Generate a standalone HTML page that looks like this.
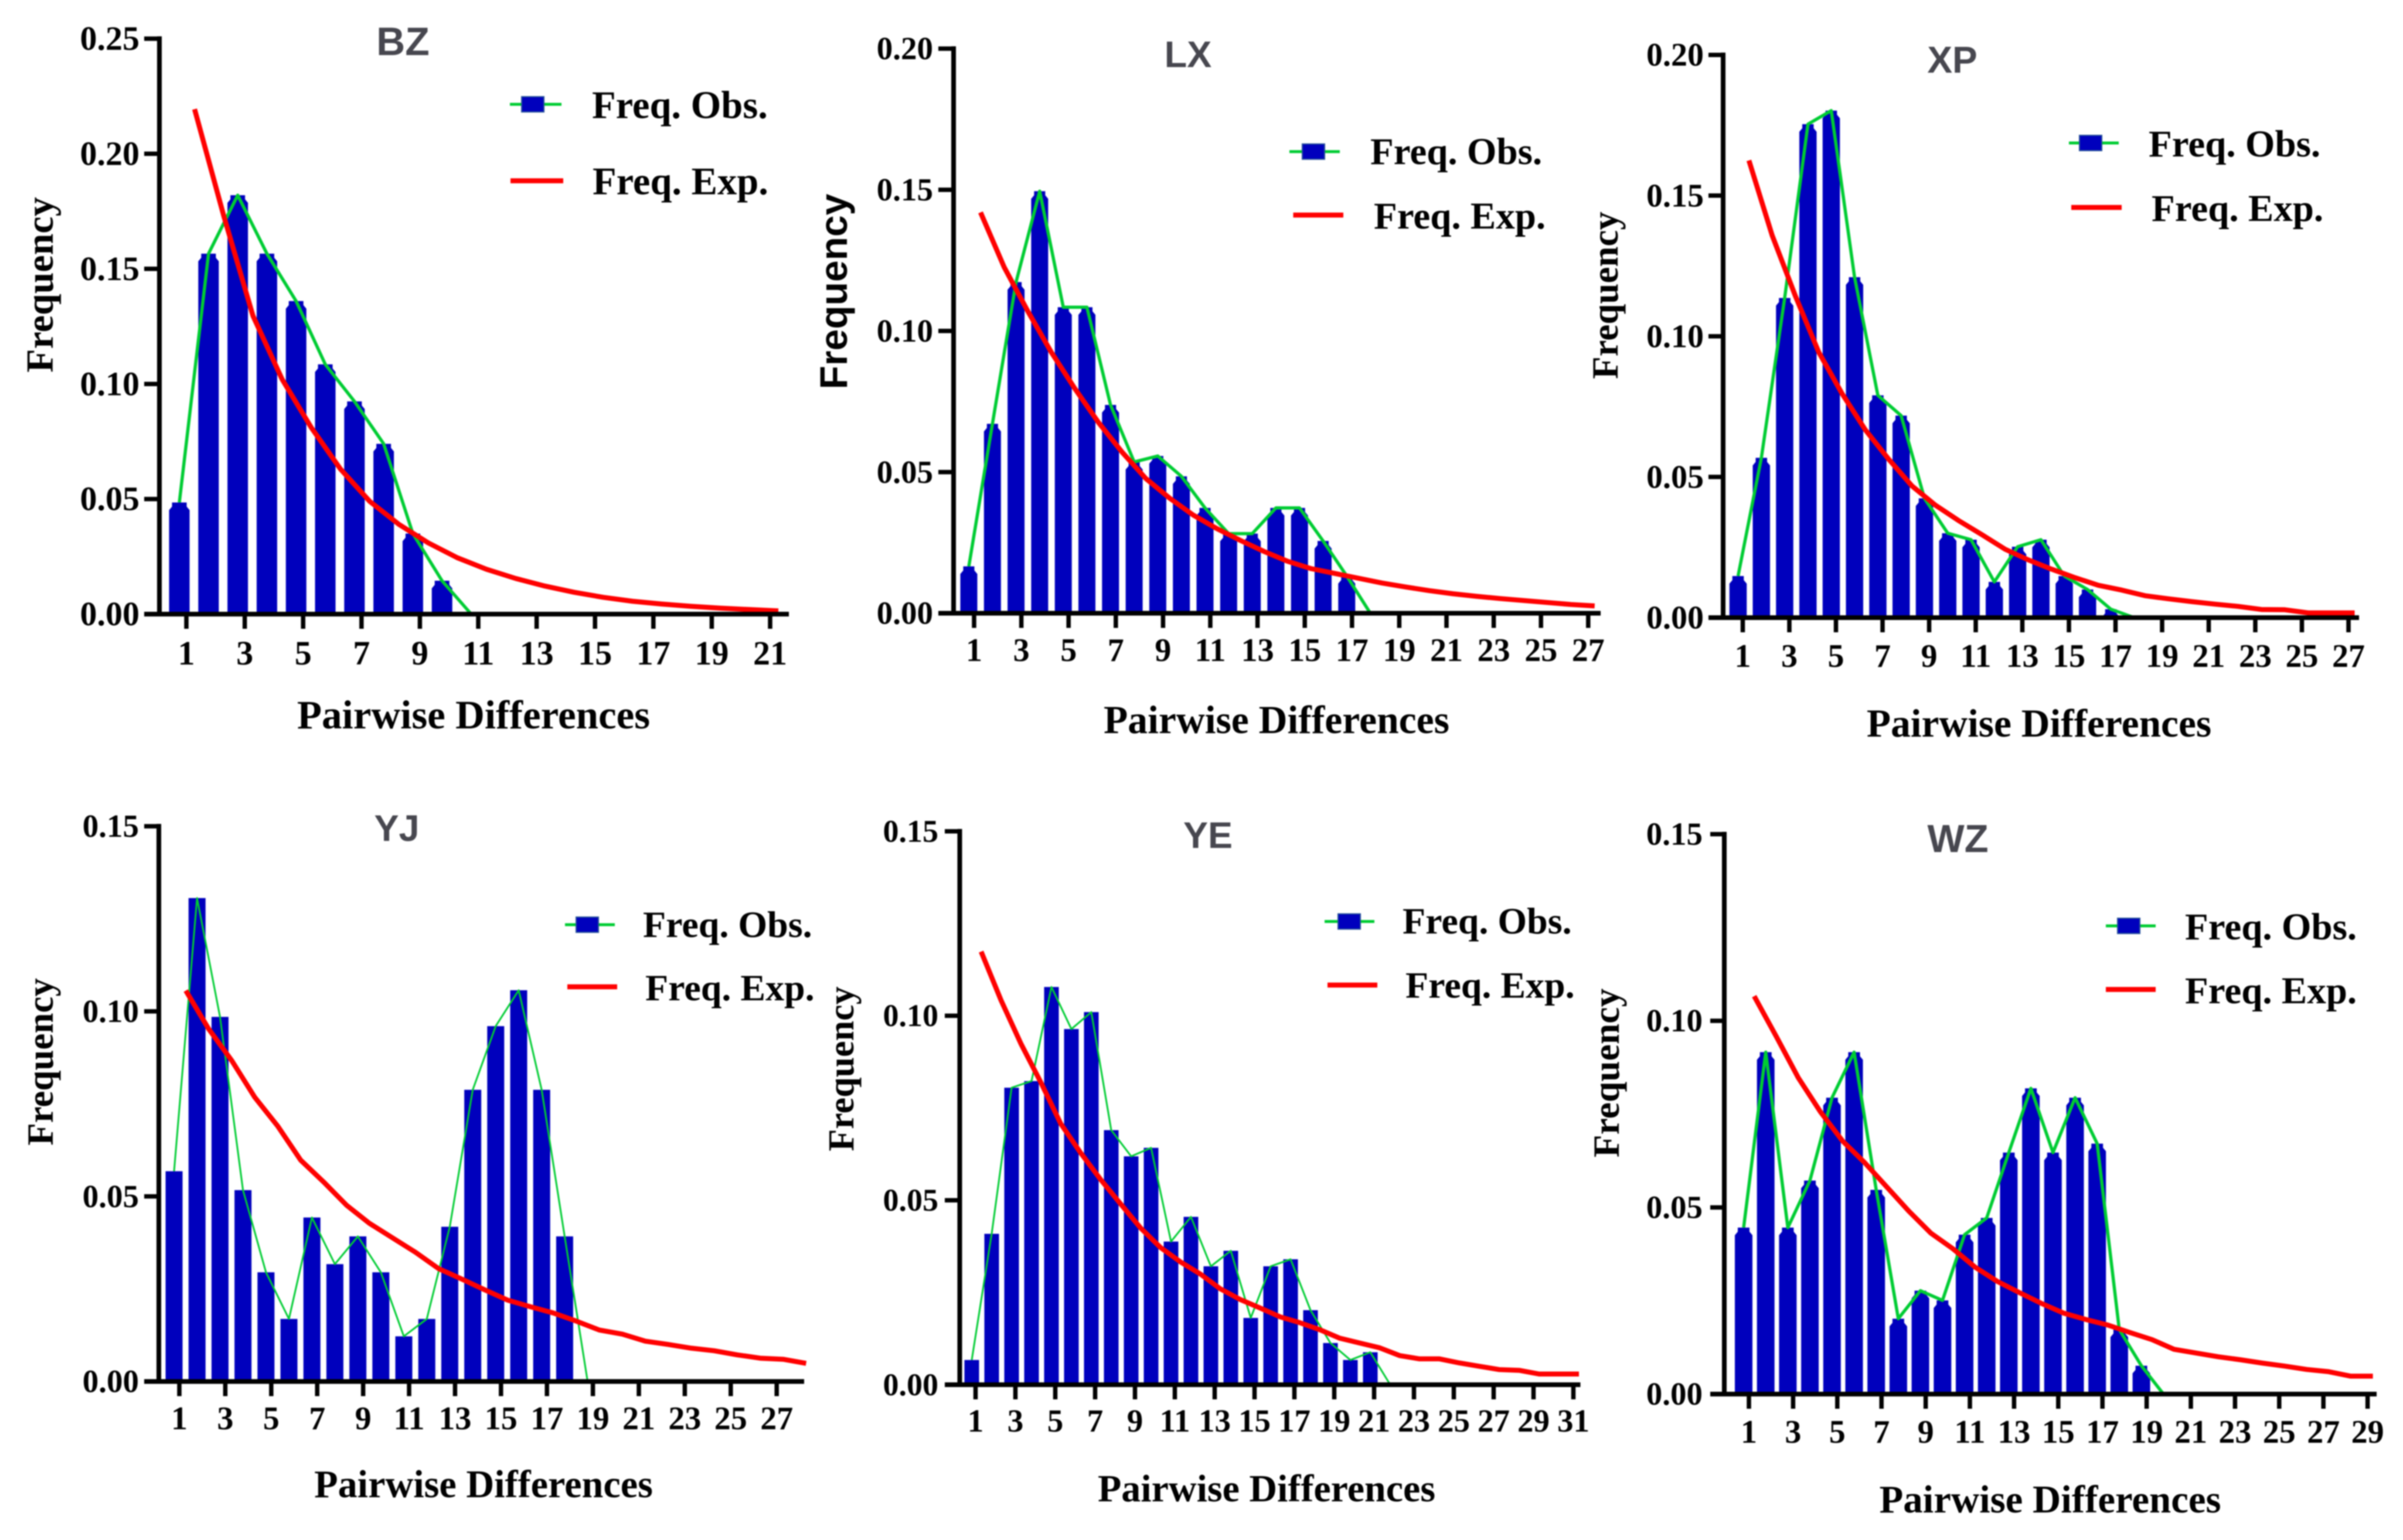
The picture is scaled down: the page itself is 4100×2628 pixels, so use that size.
<!DOCTYPE html>
<html lang="en">
<head>
<meta charset="utf-8">
<title>Mismatch distributions of pairwise differences</title>
<style>
html,body{margin:0;padding:0;background:#fff;}
#figure{display:block;width:4100px;height:2628px;filter:blur(1px);}
text{font-family:"Liberation Serif",serif;font-weight:bold;fill:#000;}
</style>
</head>
<body>
<svg id="figure" xmlns="http://www.w3.org/2000/svg" width="4100" height="2628" viewBox="0 0 4100 2628"></svg>
<script>
// ---- Data ----
const xTicksBZ = [1,3,5,7,9,11,13,15,17,19,21];
const xTicksLX = [1,3,5,7,9,11,13,15,17,19,21,23,25,27];
const xTicksXP = [1,3,5,7,9,11,13,15,17,19,21,23,25,27];
const xTicksYJ = [1,3,5,7,9,11,13,15,17,19,21,23,25,27];
const xTicksYE = [1,3,5,7,9,11,13,15,17,19,21,23,25,27,29,31];
const xTicksWZ = [1,3,5,7,9,11,13,15,17,19,21,23,25,27,29];

const yTicksBZ = [0,0.05,0.10,0.15,0.20,0.25];
const yTicksLX = [0,0.05,0.10,0.15,0.20];
const yTicksXP = [0,0.05,0.10,0.15,0.20];
const yTicksYJ = [0,0.05,0.10,0.15];
const yTicksYE = [0,0.05,0.10,0.15];
const yTicksWZ = [0,0.05,0.10,0.15];

const obsBZ = [0.0485,0.1566,0.182,0.1566,0.136,0.1085,0.0924,0.074,0.035,0.0145,0,0,0,0,0,0,0,0,0,0,0];
const expBZ = [0.2194,0.173,0.1296,0.102,0.081,0.063,0.049,0.039,0.031,0.0245,0.0195,0.0155,0.0122,0.0095,0.0073,0.0056,0.0044,0.0034,0.0026,0.002,0.0014];

const obsLX = [0.0166,0.0671,0.1173,0.1495,0.1084,0.1084,0.0738,0.0536,0.0557,0.0485,0.0373,0.0282,0.0282,0.0373,0.0373,0.0256,0.0132,0,0,0,0,0,0,0,0,0,0];
const expLX = [0.142,0.1226,0.107,0.0924,0.0795,0.0675,0.057,0.0477,0.0408,0.0348,0.03,0.0258,0.0219,0.0184,0.0158,0.0141,0.0124,0.0107,0.0093,0.008,0.0069,0.006,0.0052,0.0045,0.0038,0.0031,0.0026];

const obsXP = [0.0148,0.0568,0.1136,0.1754,0.1802,0.121,0.079,0.0718,0.0424,0.03,0.0277,0.0127,0.0252,0.0277,0.0148,0.01,0.003,0,0,0,0,0,0,0,0,0,0];
const expXP = [0.1625,0.1358,0.1142,0.0943,0.0796,0.0667,0.0563,0.0468,0.04,0.0345,0.0295,0.0243,0.0205,0.0172,0.0142,0.0115,0.0098,0.0078,0.0067,0.0057,0.0048,0.004,0.0029,0.0028,0.0017,0.0017,0.0017];

const obsYJ = [0.0568,0.1306,0.0985,0.0517,0.0295,0.0169,0.0443,0.0317,0.0392,0.0295,0.0122,0.0169,0.0418,0.0788,0.096,0.1057,0.0788,0.0392,0];
const expYJ = [0.1056,0.0952,0.0867,0.0768,0.069,0.0598,0.0539,0.0476,0.0427,0.0388,0.0349,0.0305,0.0277,0.0248,0.022,0.0202,0.0185,0.0163,0.0139,0.0128,0.0109,0.01,0.009,0.0083,0.0072,0.0063,0.006,0.0049];

const obsYE = [0.0067,0.0409,0.0805,0.0823,0.1078,0.0964,0.101,0.069,0.0619,0.0642,0.0388,0.0455,0.0321,0.0363,0.0181,0.0321,0.034,0.0202,0.0113,0.0067,0.0088,0];
const expYE = [0.1174,0.1042,0.0924,0.0819,0.0707,0.0628,0.0556,0.049,0.0425,0.0372,0.0333,0.03,0.026,0.0231,0.0208,0.0184,0.0168,0.0149,0.0126,0.0113,0.01,0.0079,0.007,0.007,0.0059,0.005,0.0041,0.0039,0.0029,0.0029,0.0029];

const obsWZ = [0.0446,0.0916,0.0446,0.0572,0.0794,0.0916,0.0547,0.0202,0.0277,0.0251,0.0427,0.0472,0.0647,0.0819,0.0647,0.0794,0.0671,0.0173,0.0076,0,0,0,0,0,0,0,0,0,0];
const expWZ = [0.1066,0.0958,0.0847,0.0756,0.0678,0.062,0.0555,0.049,0.0431,0.0389,0.034,0.0302,0.0272,0.0243,0.0217,0.02,0.0185,0.0165,0.0146,0.012,0.011,0.01,0.0092,0.0083,0.0075,0.0066,0.006,0.0048,0.0048];

// ---- Layout (positions only) ----
const panels = [
 {id:'bz',title:'BZ',obs:obsBZ,exp:expBZ,xt:xTicksBZ,yt:yTicksBZ,yMax:0.25,ax:272,top:66,base:1048,x0:318,u:49.8,bo:-12,ro:14,bw:35,cap:true,gw:5.5,
  axEnd:1346,tickL:246,yFs:58,yLabR:238,xFs:58,xLabY:1134,
  tt:{x:687.5,y:94,fs:68},xt2:{x:808,y:1243,fs:69},yt2:{x:90,y:486,fs:66,sans:false},
  lg:{gx1:870,gx2:958,gy:178,mx:909,rx1:871,rx2:961,ry:308.5,ox:1010,oy:201.5,ex:1011,ey:331.7,fs:66.5}},
 {id:'lx',title:'LX',obs:obsLX,exp:expLX,xt:xTicksLX,yt:yTicksLX,yMax:0.20,ax:1627,top:83,base:1046.5,x0:1662,u:40.3,bo:-9,ro:11,bw:29,cap:true,gw:5.5,
  axEnd:2731,tickL:1601,yFs:55,yLabR:1592,xFs:56,xLabY:1128,
  tt:{x:2027,y:114.5,fs:63},xt2:{x:2178,y:1251,fs:67.6},yt2:{x:1445,y:497.5,fs:66,sans:true},
  lg:{gx1:2200,gx2:2286,gy:258.7,mx:2241,rx1:2206.5,rx2:2292,ry:367,ox:2338,oy:280,ex:2344,ey:390,fs:65}},
 {id:'xp',title:'XP',obs:obsXP,exp:expXP,xt:xTicksXP,yt:yTicksXP,yMax:0.20,ax:2940,top:93.7,base:1054,x0:2973.5,u:39.75,bo:-8,ro:10.5,bw:29.5,cap:true,gw:5.5,
  axEnd:4025,tickL:2915,yFs:56,yLabR:2907,xFs:56,xLabY:1138,
  tt:{x:3331,y:124,fs:64},xt2:{x:3479,y:1257,fs:67.4},yt2:{x:2760,y:504,fs:63,sans:false},
  lg:{gx1:3530,gx2:3615,gy:244,mx:3567,rx1:3534,rx2:3620,ry:354,ox:3666,oy:267,ex:3671,ey:377,fs:65}},
 {id:'yj',title:'YJ',obs:obsYJ,exp:expYJ,xt:xTicksYJ,yt:yTicksYJ,yMax:0.15,ax:271,top:1410,base:2357.5,x0:306,u:39.2,bo:-9,ro:11,bw:29,cap:false,gw:3,
  axEnd:1372,tickL:246,yFs:55,yLabR:237,xFs:56,xLabY:2439,
  tt:{x:677,y:1435,fs:63},xt2:{x:825,y:2555,fs:66.2},yt2:{x:90,y:1812,fs:63,sans:false},
  lg:{gx1:964,gx2:1049,gy:1578,mx:1002,rx1:968,rx2:1053,ry:1684,ox:1097,oy:1599,ex:1101,ey:1707,fs:64}},
 {id:'ye',title:'YE',obs:obsYE,exp:expYE,xt:xTicksYE,yt:yTicksYE,yMax:0.15,ax:1637.5,top:1418.6,base:2363,x0:1664.5,u:34,bo:-6.5,ro:9.5,bw:25,cap:false,gw:3,
  axEnd:2696.5,tickL:1612,yFs:54,yLabR:1601,xFs:55,xLabY:2443,
  tt:{x:2061,y:1447,fs:63},xt2:{x:2161,y:2562,fs:66},yt2:{x:1456,y:1824,fs:62,sans:false},
  lg:{gx1:2260,gx2:2345,gy:1572.5,mx:2302,rx1:2265,rx2:2350,ry:1681,ox:2393,oy:1593,ex:2398,ey:1702.5,fs:64}},
 {id:'wz',title:'WZ',obs:obsWZ,exp:expWZ,xt:xTicksWZ,yt:yTicksWZ,yMax:0.15,ax:2942,top:1423.5,base:2379,x0:2984,u:37.7,bo:-9,ro:9,bw:30,cap:true,gw:5.5,
  axEnd:4055,tickL:2918,yFs:55,yLabR:2905,xFs:56,xLabY:2462,
  tt:{x:3340.6,y:1454,fs:67},xt2:{x:3498,y:2581,fs:66.8},yt2:{x:2762,y:1831,fs:63.6,sans:false},
  lg:{gx1:3593,gx2:3678,gy:1580,mx:3632,rx1:3593,rx2:3678,ry:1688.5,ox:3728,oy:1603,ex:3728,ey:1712,fs:65}}
];

const NS = 'http://www.w3.org/2000/svg';
const svg = document.getElementById('figure');
const BLUE = '#0000bd', GREEN = '#00cc33', RED = '#ff0000';

function shape(parent, tag, attrs, txt){
  const el = document.createElementNS(NS, tag);
  for (const k in attrs) el.setAttribute(k, attrs[k]);
  if (txt !== undefined) el.textContent = txt;
  parent.appendChild(el);
  return el;
}

panels.forEach(function(p){
  const xTick = function(i){ return p.x0 + (i - 1) * p.u; };
  const xBar  = function(i){ return xTick(i) + p.bo; };
  const xExp  = function(i){ return xTick(i) + p.ro; };
  const y     = function(v){ return p.base - v / p.yMax * (p.base - p.top); };

  const g = shape(svg, 'g', {});
  
  

  // bars
  p.obs.forEach(function(v, k){
    if (v <= 0) return;
    const cx = xBar(k + 1), l = cx - p.bw / 2, r = cx + p.bw / 2, t = y(v);
    let bar;
    if (p.cap) {
      const s = Math.min(t + 13, p.base), m = Math.min(t + 7, p.base), n = 5;
      const pts = [[l, p.base],[l, s],[l + n, m],[l + n, t],[r - n, t],[r - n, m],[r, s],[r, p.base]];
      bar = shape(g, 'polygon', {points: pts.map(function(q){ return q.join(','); }).join(' '), fill: BLUE});
    } else {
      bar = shape(g, 'rect', {x: l, y: t, width: p.bw, height: p.base - t, fill: BLUE});
    }
    
    
  });

  // observed line
  const obsPts = p.obs.map(function(v, k){ return xBar(k + 1) + ',' + y(v); }).join(' ');
  const obsLine = shape(g, 'polyline', {points: obsPts, fill: 'none', stroke: GREEN, 'stroke-width': p.gw, 'stroke-linejoin': 'round'});
  
  

  // expected line
  const expPts = p.exp.map(function(v, k){ return xExp(k + 1) + ',' + y(v); }).join(' ');
  const expLine = shape(g, 'polyline', {points: expPts, fill: 'none', stroke: RED, 'stroke-width': 8.5, 'stroke-linejoin': 'round'});
  
  

  // y axis
  const yAxis = shape(g, 'line', {x1: p.ax, x2: p.ax, y1: p.top - 4, y2: p.base + 4, stroke: '#000', 'stroke-width': 8});
  
  
  p.yt.forEach(function(v){
    const tk = shape(g, 'line', {x1: p.tickL, x2: p.ax, y1: y(v), y2: y(v), stroke: '#000', 'stroke-width': 7.5});
    
    
    const lb = shape(g, 'text', {x: p.yLabR, y: y(v) + p.yFs * 0.33, 'text-anchor': 'end', 'font-size': p.yFs}, v.toFixed(2));
    
    
  });

  // x axis
  const xAxis = shape(g, 'line', {x1: p.tickL, x2: p.axEnd, y1: p.base, y2: p.base, stroke: '#000', 'stroke-width': 8});
  
  
  p.xt.forEach(function(t){
    const tk = shape(g, 'line', {x1: xTick(t), x2: xTick(t), y1: p.base, y2: p.base + 25, stroke: '#000', 'stroke-width': 7.5});
    
    
    const lb = shape(g, 'text', {x: xTick(t), y: p.xLabY, 'text-anchor': 'middle', 'font-size': p.xFs}, String(t));
    
    
  });

  // titles
  const title = shape(g, 'text', {x: p.tt.x, y: p.tt.y, 'text-anchor': 'middle', 'font-size': p.tt.fs, style: 'font-family:"Liberation Sans",sans-serif;fill:#47474f'}, p.title);
  
  

  const xTitle = shape(g, 'text', {x: p.xt2.x, y: p.xt2.y, 'text-anchor': 'middle', 'font-size': p.xt2.fs}, 'Pairwise Differences');
  
  

  const yTitle = shape(g, 'text', {x: 0, y: 0, 'text-anchor': 'middle', 'font-size': p.yt2.fs,
    transform: 'translate(' + p.yt2.x + ',' + p.yt2.y + ') rotate(-90)',
    style: p.yt2.sans ? 'font-family:"Liberation Sans",sans-serif' : ''}, 'Frequency');
  
  

  // legend
  const lg = shape(g, 'g', {});
  
  
  const l1 = shape(lg, 'line', {x1: p.lg.gx1, x2: p.lg.gx2, y1: p.lg.gy, y2: p.lg.gy, stroke: GREEN, 'stroke-width': 5});
  
  
  const mk = shape(lg, 'rect', {x: p.lg.mx - 19, y: p.lg.gy - 13, width: 38, height: 26, fill: BLUE, stroke: '#25509a', 'stroke-width': 2});
  
  
  const t1 = shape(lg, 'text', {x: p.lg.ox, y: p.lg.oy, 'font-size': p.lg.fs}, 'Freq. Obs.');
  
  
  const l2 = shape(lg, 'line', {x1: p.lg.rx1, x2: p.lg.rx2, y1: p.lg.ry, y2: p.lg.ry, stroke: RED, 'stroke-width': 8.5});
  
  
  const t2 = shape(lg, 'text', {x: p.lg.ex, y: p.lg.ey, 'font-size': p.lg.fs}, 'Freq. Exp.');
  
  
});
</script>
</body>
</html>
